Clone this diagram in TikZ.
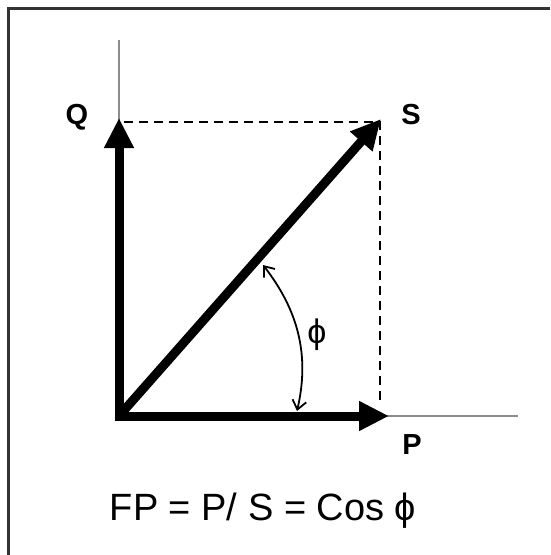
\documentclass[tikz,border=0pt]{standalone}
\usepackage{fontspec}
\setmainfont{Liberation Sans}
\usetikzlibrary{arrows.meta}
\begin{document}
\begin{tikzpicture}[x=1pt,y=-1pt,
  vec/.style={line width=9pt, -{Triangle[length=30pt,width=28pt]}},
  axisline/.style={line width=2.6pt, draw=black!45},
  guide/.style={line width=2.2pt, dash pattern=on 9pt off 6pt},
  lbl/.style={font=\bfseries\fontsize{29}{32}\selectfont, inner sep=0pt},
  anglearc/.style={line width=1.8pt, {Straight Barb[length=9pt,width=14pt]}-{Straight Barb[length=9pt,width=14pt]}},
  frameline/.style={line width=2.5pt, draw=black!80},
]
\useasboundingbox (0,0) rectangle (550,555);
\fill[white] (0,0) rectangle (550,555);
\draw[frameline] (8.5,555) -- (8.5,8.5) -- (550,8.5);

\coordinate (O) at (119,416);
\coordinate (Ostart1) at (119,420.5);
\coordinate (Ostart2) at (114.5,416);
\coordinate (Qt) at (119,118);
\coordinate (St) at (381,119);
\coordinate (Pt) at (389,416);
\coordinate (Ytop) at (119,40);
\coordinate (Xend) at (518,416);
\coordinate (Dq) at (124,122);
\coordinate (C) at (380,122);
\coordinate (Cb) at (380,405);
\coordinate (A1) at (297,411);
\coordinate (A2) at (263,265);

% axes
\draw[axisline] (Ytop) -- (O) -- (Xend);
% dashed guides
\draw[guide] (Dq) -- (C) -- (Cb);
% vectors
\draw[vec] (Ostart1) -- (Qt);
\draw[vec] (Ostart2) -- (Pt);
\draw[vec] (O) -- (St);
% angle
\draw[anglearc] (A1) .. controls (310,355) and (298,310) .. (A2);

% labels
\node[lbl] (Q) at (77,117) {Q};
\node[lbl] (S) at (411,115) {S};
\node[lbl] (P) at (412,445) {P};
\node[font=\fontsize{34}{38}\selectfont, inner sep=0pt] (phi) at (317,335) {ϕ};
\node[font=\fontsize{38}{42}\selectfont, inner sep=0pt, anchor=base] (fp) at (263,520) {FP = P/ S = Cos ϕ};
\end{tikzpicture}
\end{document}
